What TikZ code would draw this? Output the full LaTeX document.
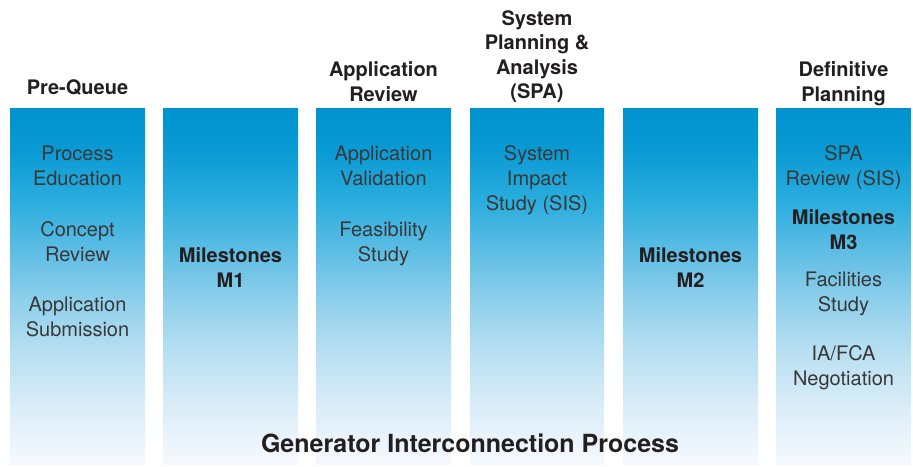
\documentclass[tikz,border=0pt]{standalone}
\usepackage{fontspec}
\setmainfont{TeX Gyre Heros}
\usetikzlibrary{positioning}

\definecolor{fade6}{HTML}{0093CF}
\definecolor{fade7}{HTML}{0A9AD4}
\definecolor{fade8}{HTML}{2AADDE}
\definecolor{fade9}{HTML}{5CBDE4}
\definecolor{fadeA}{HTML}{8ECFEB}
\definecolor{fadeB}{HTML}{B6DFF1}
\definecolor{fadeC}{HTML}{D6EBF7}
\definecolor{fadeD}{HTML}{EFF6FC}
\definecolor{fadeE}{HTML}{F5F9FD}
\definecolor{headink}{HTML}{231F20}
\definecolor{bodyink}{HTML}{383838}

% vertical fade from deep blue (top) to near white (bottom);
% the path's box maps to the 25bp..75bp band of the shading
\pgfdeclareverticalshading{columnfade}{100bp}{%
  color(0bp)=(fadeE);
  color(25bp)=(fadeE);
  color(27bp)=(fadeD);
  color(34bp)=(fadeC);
  color(41bp)=(fadeB);
  color(48bp)=(fadeA);
  color(55bp)=(fade9);
  color(62bp)=(fade8);
  color(69bp)=(fade7);
  color(75bp)=(fade6);
  color(100bp)=(fade6)}

% text nodes are placed by the baseline of their last line
\tikzset{
  column/.style={shading=columnfade, draw=none},
  header/.style={anchor=base, align=center, text=headink,
    font=\bfseries\fontsize{20}{24.5}\selectfont, inner sep=0pt},
  item/.style={anchor=base, align=center, text=bodyink,
    font=\fontsize{20}{25}\selectfont, inner sep=0pt},
  milestone/.style={anchor=base, align=center, text=headink,
    font=\bfseries\fontsize{20}{25}\selectfont, inner sep=0pt},
  title/.style={anchor=base, text=headink,
    font=\bfseries\fontsize{25}{30}\selectfont, inner sep=0pt}
}

\begin{document}
\begin{tikzpicture}[x=1pt, y=-1pt]
  \useasboundingbox (0,0) rectangle (913,466);

  % the six phase columns
  \shade[column] (10,108)  rectangle (145,464);
  \shade[column] (163,108) rectangle (298,464);
  \shade[column] (316,108) rectangle (451,464);
  \shade[column] (470,108) rectangle (604,464);
  \shade[column] (623,108) rectangle (758,464);
  \shade[column] (776,108) rectangle (911,464);

  % phase headings
  \node[header] (hPre)  at (77.5,94)   {Pre-Queue};
  \node[header] (hApp)  at (383.5,101) {Application\\Review};
  \node[header] (hSpa)  at (537,98.5)  {System\\Planning \&\\Analysis\\(SPA)};
  \node[header] (hDef)  at (843.5,101) {Definitive\\Planning};

  % Pre-Queue
  \node[item] (pq1) at (77.5,185) {Process\\Education};
  \node[item] (pq2) at (77.5,261) {Concept\\Review};
  \node[item] (pq3) at (77.5,336) {Application\\Submission};

  % Milestones M1
  \node[milestone] (m1) at (230.5,287) {Milestones\\M1};

  % Application Review
  \node[item] (ar1) at (383.5,185) {Application\\Validation};
  \node[item] (ar2) at (383.5,261) {Feasibility\\Study};

  % System Planning & Analysis
  \node[item] (sp1) at (537,210) {System\\Impact\\Study (SIS)};

  % Milestones M2
  \node[milestone] (m2) at (690.5,287) {Milestones\\M2};

  % Definitive Planning
  \node[item] (dp1) at (843.5,185) {SPA\\Review (SIS)};
  \node[milestone] (m3) at (843.5,249) {Milestones\\M3};
  \node[item] (dp2) at (843.5,311) {Facilities\\Study};
  \node[item] (dp3) at (843.5,385) {IA/FCA\\Negotiation};

  % overall caption
  \node[title] (cap) at (470,452) {Generator Interconnection Process};
\end{tikzpicture}
\end{document}
